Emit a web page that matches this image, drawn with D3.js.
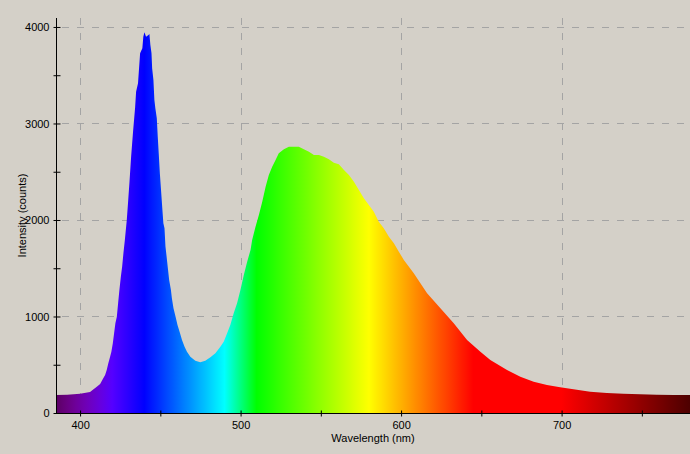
<!DOCTYPE html>
<html>
<head>
<meta charset="utf-8">
<script src="https://cdn.jsdelivr.net/npm/d3@7"></script>
<style>
  html, body { margin: 0; padding: 0; background: #d4d0c8; }
  svg { display: block; }
  text { font-family: "Liberation Sans", Arial, sans-serif; font-size: 11px; fill: #000; }
</style>
</head>
<body>
<svg id="chart" width="690" height="454"></svg>
<script>
// ---- data ----
const wavelengths = [385.0, 392.0, 400.0, 406.2, 410.4, 412.5, 414.1, 415.6, 416.6, 417.6, 418.7, 419.5, 420.4, 421.2, 422.0, 422.9, 423.7, 424.5, 425.4, 426.2, 427.0, 427.9, 429.1, 430.0, 430.8, 431.8, 433.0, 434.3, 434.9, 436.1, 437.4, 438.8, 439.4, 440.1, 441.1, 442.6, 443.2, 443.8, 444.5, 444.9, 445.7, 446.3, 446.9, 447.8, 448.4, 449.0, 449.7, 450.5, 451.3, 451.9, 452.6, 453.2, 453.8, 454.7, 455.5, 456.6, 457.2, 458.2, 459.5, 460.7, 462.0, 463.5, 465.1, 466.6, 468.7, 471.8, 474.9, 478.0, 481.2, 484.3, 487.4, 489.5, 491.6, 493.6, 495.7, 497.8, 499.9, 502.0, 504.1, 506.2, 507.2, 509.3, 511.4, 513.5, 515.6, 517.6, 519.7, 521.8, 523.8, 527.0, 530.1, 533.2, 536.3, 539.4, 542.6, 545.7, 548.8, 551.9, 555.0, 558.1, 561.2, 564.4, 567.5, 570.6, 573.7, 576.8, 579.9, 583.0, 586.1, 589.2, 592.4, 595.5, 598.6, 601.7, 607.9, 616.2, 624.5, 632.8, 641.1, 649.4, 655.6, 666.0, 674.3, 682.6, 690.9, 699.1, 707.4, 717.8, 728.2, 738.5, 748.9, 759.3, 769.7, 780.0];
const counts = [187, 190, 200, 218, 273, 300, 349, 394, 446, 515, 583, 635, 722, 826, 930, 998, 1137, 1275, 1413, 1516, 1655, 1793, 2000, 2207, 2400, 2656, 2915, 3168, 3330, 3417, 3727, 3779, 3900, 3945, 3900, 3917, 3927, 3813, 3727, 3572, 3451, 3244, 3157, 3054, 2863, 2691, 2484, 2294, 2104, 1966, 1914, 1724, 1637, 1499, 1378, 1275, 1188, 1085, 998, 912, 843, 756, 687, 635, 583, 542, 525, 542, 577, 619, 687, 739, 826, 912, 1033, 1137, 1275, 1430, 1568, 1690, 1793, 1931, 2052, 2190, 2345, 2466, 2552, 2622, 2691, 2732, 2760, 2760, 2760, 2732, 2708, 2674, 2674, 2656, 2629, 2594, 2577, 2518, 2466, 2397, 2311, 2225, 2155, 2086, 1982, 1914, 1827, 1758, 1672, 1585, 1448, 1240, 1085, 930, 756, 635, 549, 446, 376, 324, 290, 266, 246, 221, 207, 200, 194, 190, 187, 187];

const xTicks = [400, 500, 600, 700];
const xMinorTicks = [450, 550, 650, 750];
const yTicks = [0, 1000, 2000, 3000, 4000];
const yMinorTicks = [500, 1500, 2500, 3500];
const xDomain = [385, 780];
const yDomain = [0, 4093];
const xTitle = "Wavelength (nm)";
const yTitle = "Intensity (counts)";

(function () {
  // ---- layout ----
  const svg = d3.select("#chart");
  const mLeft = 56, mRight = 690, mTop = 18, mBottom = 413;
  const x = d3.scaleLinear().domain(xDomain).range([mLeft, mRight]);
  const y = d3.scaleLinear().domain(yDomain).range([mBottom, mTop]);

  svg.append("rect").attr("width", 690).attr("height", 454).attr("fill", "#d4d0c8");

  // spectrum colour (wavelength -> RGB)
  function specColor(w) {
    let r = 0, g = 0, b = 0;
    if (w < 440) { r = (440 - w) / 60; b = 1; }
    else if (w < 490) { g = (w - 440) / 50; b = 1; }
    else if (w < 510) { g = 1; b = (510 - w) / 20; }
    else if (w < 580) { r = (w - 510) / 70; g = 1; }
    else if (w < 645) { r = 1; g = (645 - w) / 65; }
    else { r = 1; }
    let f = 1;
    if (w < 420) f = 0.3 + 0.7 * (w - 380) / 40;
    else if (w > 700) f = 0.3 + 0.7 * (780 - w) / 80;
    return d3.rgb(Math.round(r * f * 255), Math.round(g * f * 255), Math.round(b * f * 255)).formatHex();
  }

  const defs = svg.append("defs");
  const grad = defs.append("linearGradient")
    .attr("id", "spec").attr("gradientUnits", "userSpaceOnUse")
    .attr("x1", x(xDomain[0])).attr("x2", x(xDomain[1])).attr("y1", 0).attr("y2", 0);
  for (let w = xDomain[0]; w <= xDomain[1]; w += 2.5) {
    grad.append("stop")
      .attr("offset", (w - xDomain[0]) / (xDomain[1] - xDomain[0]))
      .attr("stop-color", specColor(w));
  }

  // grid
  const grid = svg.append("g").attr("stroke", "#a4a4a4").attr("stroke-width", 1).attr("stroke-dasharray", "7,8");
  grid.selectAll("line.v").data(xTicks).join("line").attr("class", "v")
    .attr("x1", d => Math.round(x(d)) + 0.5).attr("x2", d => Math.round(x(d)) + 0.5)
    .attr("y1", mTop).attr("y2", mBottom);
  grid.selectAll("line.h").data(yTicks.filter(d => d > 0)).join("line").attr("class", "h")
    .attr("x1", mLeft + 6).attr("x2", mRight)
    .attr("y1", d => Math.round(y(d)) + 0.5).attr("y2", d => Math.round(y(d)) + 0.5);

  // spectrum fill
  const data = wavelengths.map((w, i) => ({ w, v: counts[i] }));
  const area = d3.area().x(d => x(d.w)).y0(y(0)).y1(d => y(d.v)).curve(d3.curveLinear);
  svg.append("path").datum(data).attr("d", area).attr("fill", "url(#spec)");

  // axes
  const xAxis = d3.axisBottom(x).tickValues(xTicks.concat(xMinorTicks)).tickSize(3).tickPadding(5)
    .tickFormat(d => xTicks.includes(d) ? d3.format("d")(d) : "");
  const gx = svg.append("g").attr("transform", `translate(0,${mBottom + 0.5})`).call(xAxis);
  gx.select(".domain").attr("d", `M${mLeft},0H${mRight}`).attr("stroke", "#000");
  gx.selectAll(".tick line").attr("y1", -3).attr("stroke", "#000");
  gx.selectAll(".tick text").attr("font-family", "Liberation Sans, Arial, sans-serif").attr("font-size", 11).attr("fill", "#000");

  const yAxis = d3.axisLeft(y).tickValues(yTicks.concat(yMinorTicks)).tickSize(3).tickPadding(4)
    .tickFormat(d => yTicks.includes(d) ? d3.format("d")(d) : "");
  const gy = svg.append("g").attr("transform", `translate(${mLeft + 0.5},0)`).call(yAxis);
  gy.select(".domain").attr("d", `M0,${mTop}V${mBottom}`).attr("stroke", "#000");
  gy.selectAll(".tick line").attr("x2", -3).attr("x1", 4).attr("stroke", "#000");
  gy.selectAll(".tick text").attr("font-family", "Liberation Sans, Arial, sans-serif").attr("font-size", 11).attr("fill", "#000");

  // titles
  svg.append("text").attr("x", (mLeft + mRight) / 2).attr("y", 442).attr("text-anchor", "middle").text(xTitle);
  svg.append("text").attr("transform", `translate(25.5,${(mTop + mBottom) / 2}) rotate(-90)`)
    .attr("text-anchor", "middle").text(yTitle);
})();
</script>
</body>
</html>
